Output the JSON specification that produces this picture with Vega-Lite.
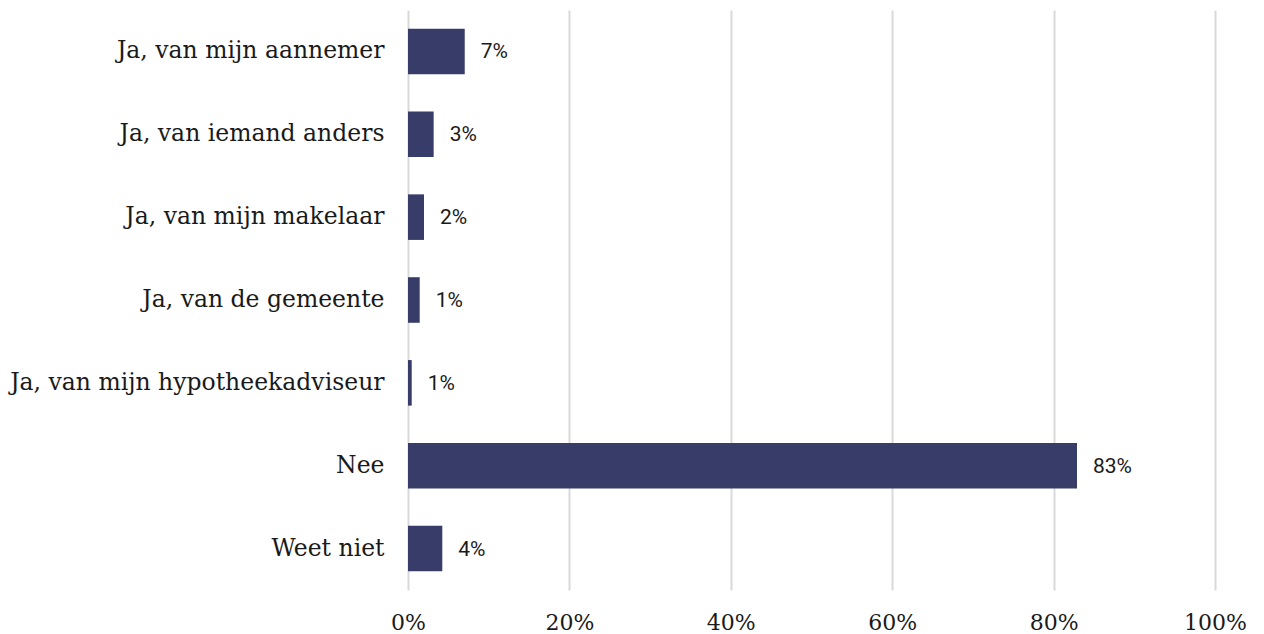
{
  "$schema": "https://vega.github.io/schema/vega-lite/v6.json",
  "autosize": "none",
  "width": 807,
  "height": 580,
  "padding": {"left": 408, "top": 10, "right": 49, "bottom": 44},
  "background": "white",
  "config": {"view": {"stroke": null}},
  "data": {
    "values": [
      {"category": "Ja, van mijn aannemer", "value": 0.0703, "label": "7%"},
      {"category": "Ja, van iemand anders", "value": 0.0318, "label": "3%"},
      {"category": "Ja, van mijn makelaar", "value": 0.0198, "label": "2%"},
      {"category": "Ja, van de gemeente", "value": 0.0145, "label": "1%"},
      {"category": "Ja, van mijn hypotheekadviseur", "value": 0.0046, "label": "1%"},
      {"category": "Nee", "value": 0.829, "label": "83%"},
      {"category": "Weet niet", "value": 0.0425, "label": "4%"}
    ]
  },
  "encoding": {
    "y": {
      "field": "category",
      "type": "nominal",
      "sort": null,
      "scale": {"paddingInner": 0.45, "paddingOuter": 0.225},
      "axis": {
        "title": null,
        "domain": false,
        "ticks": false,
        "labelPadding": 24,
        "labelFont": "DejaVu Serif",
        "labelFontSize": 23.5,
        "labelColor": "#1a1a1a",
        "labelLimit": 500
      }
    },
    "x": {
      "field": "value",
      "type": "quantitative",
      "scale": {"domain": [0, 1]},
      "axis": {
        "title": null,
        "format": ".0%",
        "values": [0, 0.2, 0.4, 0.6, 0.8, 1],
        "domain": false,
        "ticks": false,
        "grid": true,
        "gridColor": "#d9d9d9",
        "gridWidth": 2,
        "labelFlush": false,
        "labelPadding": 22,
        "labelFont": "DejaVu Serif",
        "labelFontSize": 22,
        "labelColor": "#1a1a1a"
      }
    }
  },
  "layer": [
    {"mark": {"type": "bar", "color": "#383c69"}},
    {
      "mark": {
        "type": "text",
        "align": "left",
        "baseline": "middle",
        "dx": 16,
        "dy": 1,
        "font": "Roboto",
        "fontSize": 21,
        "color": "#1a1a1a"
      },
      "encoding": {"text": {"field": "label"}}
    }
  ]
}
